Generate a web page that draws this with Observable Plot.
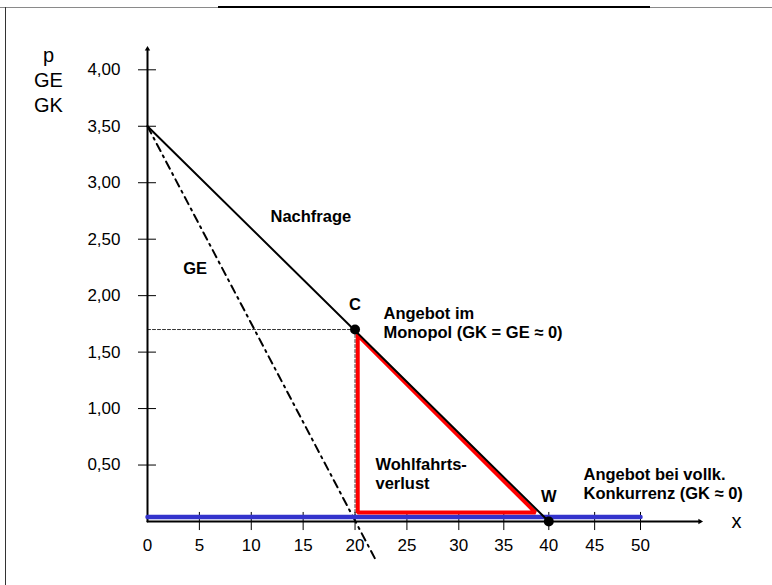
<!DOCTYPE html>
<html>
<head>
<meta charset="utf-8">
<script src="https://cdn.jsdelivr.net/npm/d3@7"></script>
<script src="https://cdn.jsdelivr.net/npm/@observablehq/plot@0.6"></script>
<style>
  body { margin: 0; background: #fff; }
  #wrap { position: relative; width: 772px; height: 585px; overflow: hidden; background: #fff; }
  #chart { position: absolute; left: 0; top: 0; }
  #topline { position: absolute; left: 0; top: 7px; width: 772px; height: 1px; background: #8a8a8a; }
  #topseg { position: absolute; left: 218px; top: 6px; width: 432px; height: 2px; background: #000; }
  #leftline { position: absolute; left: 5px; top: 7px; width: 1px; height: 578px; background: #333; }
</style>
</head>
<body>
<div id="wrap">
  <div id="chart"></div>
  <div id="topline"></div>
  <div id="topseg"></div>
  <div id="leftline"></div>
</div>
<script>
// ---- data ----
const xTickValues = [0, 5, 10, 15, 20, 25, 30, 35, 40, 45, 50];
const yTickValues = [0.5, 1, 1.5, 2, 2.5, 3, 3.5, 4];

const demandX = [0, 40];
const demandP = [3.5, 0];

const geX = [0, 22.07];
const geP = [3.5, -0.354];

const gkX = [0, 50];
const gkP = [0.04, 0.04];

const lossX = [20.26, 20.26, 38.52, 20.26];
const lossP = [1.65, 0.08, 0.08, 1.65];

const pointNames = ["C", "W"];
const pointX = [20, 40];
const pointP = [1.7, 0];

const noteText = ["Nachfrage", "GE", "Angebot im\nMonopol (GK = GE \u2248 0)", "Wohlfahrts-\nverlust", "Angebot bei vollk.\nKonkurrenz (GK \u2248 0)"];
const noteX = [11.85, 3.44, 22.74, 21.97, 43.78];
const noteP = [2.71, 2.25, 1.767, 0.425, 0.337];

const yTitle = "p\nGE\nGK";
const xTitle = "x";
const axisTopP = 4.184;   // y-axis arrow
const axisEndX = 56.48;   // x-axis arrow
const xTitleX = 60.47;
const yTitleX = -9.54, yTitleP = 3.915;

// ---- build tables ----
const pts = (xs, ys) => xs.map((x, i) => ({x, p: ys[i]}));
const demand = pts(demandX, demandP);
const ge = pts(geX, geP);
const gk = pts(gkX, gkP);
const loss = pts(lossX, lossP);
const points = pointNames.map((n, i) => ({n, x: pointX[i], p: pointP[i]}));
const notes = noteText.map((t, i) => ({t, x: noteX[i], p: noteP[i]}));
const C = points[0];

const tx = 0.867, ty = 0.08; // half tick lengths in data units
const fmt = d => d.toFixed(2).replace(".", ",");

const chart = Plot.plot({
  width: 772,
  height: 585,
  margin: 0,
  x: {type: "linear", domain: [0, 30, 40, 50], range: [147, 458.3, 548.3, 640], axis: null},
  y: {domain: [0, 4], range: [521, 69.3], axis: null},
  style: {fontFamily: "'Liberation Sans', Arial, Helvetica, sans-serif", background: "transparent", color: "#000"},
  marks: [
    // dashed guide lines to C
    Plot.line([{x: 0, p: C.p}, {x: C.x, p: C.p}], {x: "x", y: "p", stroke: "#333", strokeWidth: 1, strokeDasharray: "3,2"}),
    Plot.line([{x: C.x, p: C.p}, {x: C.x, p: 0}], {x: "x", y: "p", stroke: "#333", strokeWidth: 1, strokeDasharray: "3,2"}),
    // GE (dash-dot)
    Plot.line(ge, {x: "x", y: "p", stroke: "#000", strokeWidth: 2, strokeDasharray: "8,5,2,5"}),
    // tick marks
    Plot.ruleX(xTickValues.filter(d => d > 0), {x: d => d, y1: -ty, y2: ty, stroke: "#000", strokeWidth: 1}),
    Plot.ruleY(yTickValues, {y: d => d, x1: -tx, x2: tx, stroke: "#000", strokeWidth: 1}),
    // axes
    Plot.line([{x: 0, p: 0}, {x: 0, p: axisTopP}], {x: "x", y: "p", stroke: "#000", strokeWidth: 2}),
    Plot.line([{x: 0, p: 0}, {x: axisEndX, p: 0}], {x: "x", y: "p", stroke: "#000", strokeWidth: 2}),
    Plot.dot([{x: 0, p: axisTopP}], {x: "x", y: "p", symbol: "triangle2", r: 2.6, fill: "#000", rotate: 0}),
    Plot.dot([{x: axisEndX, p: 0}], {x: "x", y: "p", symbol: "triangle2", r: 2.6, fill: "#000", rotate: 90}),
    // GK ~ 0 supply (blue)
    Plot.line(gk, {x: "x", y: "p", stroke: "#3333cc", strokeWidth: 4.5}),
    // welfare loss triangle
    Plot.line(loss, {x: "x", y: "p", stroke: "#ff0000", strokeWidth: 4, strokeLinejoin: "miter"}),
    // demand
    Plot.line(demand, {x: "x", y: "p", stroke: "#000", strokeWidth: 2}),
    // points
    Plot.dot(points, {x: "x", y: "p", r: 5, fill: "#000"}),
    Plot.text(points, {x: "x", y: "p", text: "n", dy: -25, fontSize: 16.5, fontWeight: "bold"}),
    // annotations
    Plot.text(notes, {x: "x", y: "p", text: "t", textAnchor: "start", fontSize: 16.5, fontWeight: "bold", lineHeight: 1.16}),
    // tick labels
    Plot.text(xTickValues, {x: d => d, y: 0, text: d => String(d), dy: 24, fontSize: 17}),
    Plot.text(yTickValues, {x: 0, y: d => d, text: fmt, dx: -27, textAnchor: "end", fontSize: 17}),
    // axis titles
    Plot.text([yTitle], {x: yTitleX, y: yTitleP, text: d => d, fontSize: 20, lineHeight: 1.25}),
    Plot.text([xTitle], {x: xTitleX, y: 0, text: d => d, fontSize: 20})
  ]
});
document.getElementById("chart").appendChild(chart);
</script>
</body>
</html>
